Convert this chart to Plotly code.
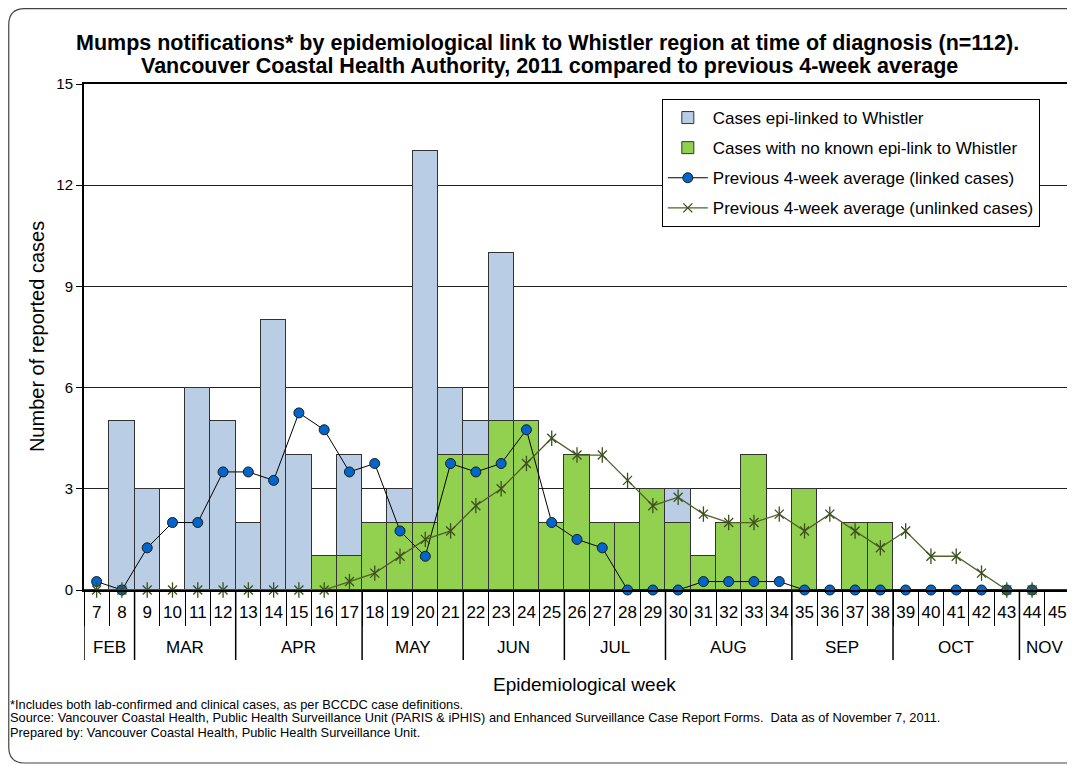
import plotly.graph_objects as go

weeks = list(range(7, 46))
linked = [0, 5, 3, 0, 6, 5, 2, 8, 4, 0, 3, 0, 1, 11, 2, 1, 5, 0, 0, 0, 0, 0, 0, 1,
          0, 0, 0, 0, 0, 0, 0, 0, 0, 0, 0, 0, 0, 0, 0]
unlinked = [0, 0, 0, 0, 0, 0, 0, 0, 0, 1, 1, 2, 2, 2, 4, 4, 5, 5, 2, 4, 2, 2, 3, 2,
            1, 2, 4, 0, 3, 0, 2, 2, 0, 0, 0, 0, 0, 0, 0]
avg_linked = [0.25, 0, 1.25, 2, 2, 3.5, 3.5, 3.25, 5.25, 4.75, 3.5, 3.75, 1.75, 1.0,
              3.75, 3.5, 3.75, 4.75, 2, 1.5, 1.25, 0, 0, 0, 0.25, 0.25, 0.25, 0.25,
              0, 0, 0, 0, 0, 0, 0, 0, 0, 0, None]
avg_unlinked = [0, 0, 0, 0, 0, 0, 0, 0, 0, 0, 0.25, 0.5, 1, 1.5, 1.75, 2.5, 3, 3.75,
                4.5, 4, 4, 3.25, 2.5, 2.75, 2.25, 2, 2, 2.25, 1.75, 2.25, 1.75, 1.25,
                1.75, 1, 1, 0.5, 0, 0, None]
months = ["FEB", "MAR", "APR", "MAY", "JUN", "JUL", "AUG", "SEP", "OCT", "NOV"]
month_first_week = [7, 9, 13, 18, 22, 26, 30, 35, 39, 44]
month_last_week = [8, 12, 17, 21, 25, 29, 34, 38, 43, 45]

FONT = "Liberation Sans, Arial, sans-serif"
OFF = 8  # page body margin
W, H = 1075 - OFF, 765 - OFF
# plot area in screen pixels
SL, ST, SR, SB = 84, 84, 1072, 590
L, T = SL - OFF, ST - OFF
R, B = W - (SR - OFF), H - (SB - OFF)
PW, PH = SR - SL, SB - ST

def px(x):
    return (x - SL) / PW

def py(y):
    return (SB - y) / PH

fig = go.Figure()
fig.add_trace(go.Bar(x=weeks, y=unlinked, name="Cases with no known epi-link to Whistler",
                     marker=dict(color="#92D050", line=dict(color="#333333", width=1)),
                     legendrank=2, legendgroup="b"))
fig.add_trace(go.Bar(x=weeks, y=linked, name="Cases epi-linked to Whistler",
                     marker=dict(color="#B9CDE5", line=dict(color="#333333", width=1)),
                     legendrank=1, legendgroup="a"))
fig.add_trace(go.Scatter(x=weeks, y=avg_linked, mode="lines+markers",
                         name="Previous 4-week average (linked cases)",
                         line=dict(color="black", width=1),
                         marker=dict(symbol="circle", size=10, color="#0066CC",
                                     line=dict(color="#1a1a1a", width=1)),
                         cliponaxis=False, legendrank=3, legendgroup="c"))
fig.add_trace(go.Scatter(x=weeks, y=avg_unlinked, mode="lines+markers",
                         name="Previous 4-week average (unlinked cases)",
                         line=dict(color="#4F6228", width=1.3),
                         marker=dict(symbol="x-thin", size=9,
                                     line=dict(color="#3B4F1E", width=1.3)),
                         cliponaxis=False, legendrank=4, legendgroup="d"))
fig.add_trace(go.Scatter(x=weeks, y=avg_unlinked, mode="markers",
                         marker=dict(symbol="line-ns", size=11,
                                     line=dict(color="#3B4F1E", width=1.3)),
                         cliponaxis=False, showlegend=False, legendgroup="d",
                         hoverinfo="skip"))

boundaries = [w - 0.5 for w in weeks] + [weeks[-1] + 0.5]
fig.update_xaxes(range=[weeks[0] - 0.5, weeks[-1] + 0.5], tickmode="array",
                 tickvals=weeks, ticktext=[str(w) for w in weeks], ticks="",
                 ticklabelstandoff=6,
                 tickfont=dict(family=FONT, size=17, color="black"),
                 showgrid=False, zeroline=False, showline=True, linecolor="black",
                 linewidth=2, mirror=True,
                 minor=dict(tickmode="array", tickvals=boundaries, ticks="outside",
                            ticklen=34, tickcolor="black", tickwidth=1, showgrid=False))
fig.update_yaxes(range=[0, 15], tickmode="array", tickvals=[0, 3, 6, 9, 12, 15],
                 ticks="outside", ticklen=6, tickcolor="black",
                 tickfont=dict(family=FONT, size=15, color="black"),
                 showgrid=True, gridcolor="#222222", gridwidth=1, zeroline=False,
                 showline=True, linecolor="black", linewidth=2, mirror=True)

shapes = []
month_edges = [weeks[0] - 0.5] + [lw + 0.5 for lw in month_last_week]
for xb in month_edges:
    shapes.append(dict(type="line", xref="x", yref="paper", x0=xb, x1=xb,
                       y0=0, y1=py(660), line=dict(color="black", width=1.5)))
# rounded outer frame
x0, x1 = px(8.6), px(1085)
y0, y1 = py(8.6), py(763)
rx, ry = 16 / PW, 16 / PH
path = (f"M {x0 + rx},{y0} L {x1 - rx},{y0} Q {x1},{y0} {x1},{y0 - ry} "
        f"L {x1},{y1 + ry} Q {x1},{y1} {x1 - rx},{y1} L {x0 + rx},{y1} "
        f"Q {x0},{y1} {x0},{y1 + ry} L {x0},{y0 - ry} Q {x0},{y0} {x0 + rx},{y0} Z")
shapes.append(dict(type="path", xref="paper", yref="paper", path=path,
                   line=dict(color="#444444", width=1.2)))

annotations = []
for m, a, b in zip(months, month_first_week, month_last_week):
    annotations.append(dict(x=(a + b) / 2, xref="x", y=py(647), yref="paper",
                            text=m, showarrow=False, yanchor="middle",
                            font=dict(family=FONT, size=17, color="black")))
annotations.append(dict(x=px(548), xref="paper", y=py(43), yref="paper",
                        text="<b>Mumps notifications* by epidemiological link to Whistler region at time of diagnosis (n=112).</b>",
                        showarrow=False, yanchor="middle",
                        font=dict(family=FONT, size=21.5, color="black")))
annotations.append(dict(x=px(550), xref="paper", y=py(66), yref="paper",
                        text="<b>Vancouver Coastal Health Authority, 2011 compared to previous 4-week average</b>",
                        showarrow=False, yanchor="middle",
                        font=dict(family=FONT, size=21.5, color="black")))
annotations.append(dict(x=px(586), xref="paper", y=py(684), yref="paper",
                        text="Epidemiological week", showarrow=False, yanchor="middle",
                        font=dict(family=FONT, size=19, color="black")))
annotations.append(dict(x=px(37), xref="paper", y=py(337), yref="paper",
                        text="Number of reported cases", showarrow=False,
                        textangle=-90, xanchor="center", yanchor="middle",
                        font=dict(family=FONT, size=20, color="black")))
foot = ["*Includes both lab-confirmed and clinical cases, as per BCCDC case definitions.",
        "Source: Vancouver Coastal Health, Public Health Surveillance Unit (PARIS &amp; iPHIS) and Enhanced Surveillance Case Report Forms.  Data as of November 7, 2011.",
        "Prepared by: Vancouver Coastal Health, Public Health Surveillance Unit."]
for i, t in enumerate(foot):
    annotations.append(dict(x=px(8), xref="paper", y=py(704 + 14 * i), yref="paper",
                            text=t, showarrow=False, xanchor="left", yanchor="middle",
                            font=dict(family=FONT, size=12.8, color="black")))

fig.update_layout(
    width=W, height=H, margin=dict(l=L, r=R, t=T, b=B, pad=0),
    barmode="stack", bargap=0,
    plot_bgcolor="white", paper_bgcolor="white",
    font=dict(family=FONT, color="black"),
    showlegend=True,
    legend=dict(x=px(663), y=py(99), xanchor="left", yanchor="top",
                bgcolor="white", bordercolor="black", borderwidth=1,
                font=dict(family=FONT, size=17, color="black"),
                traceorder="grouped", tracegroupgap=5, itemwidth=40),
    shapes=shapes, annotations=annotations,
)

fig.write_html("out.html")
